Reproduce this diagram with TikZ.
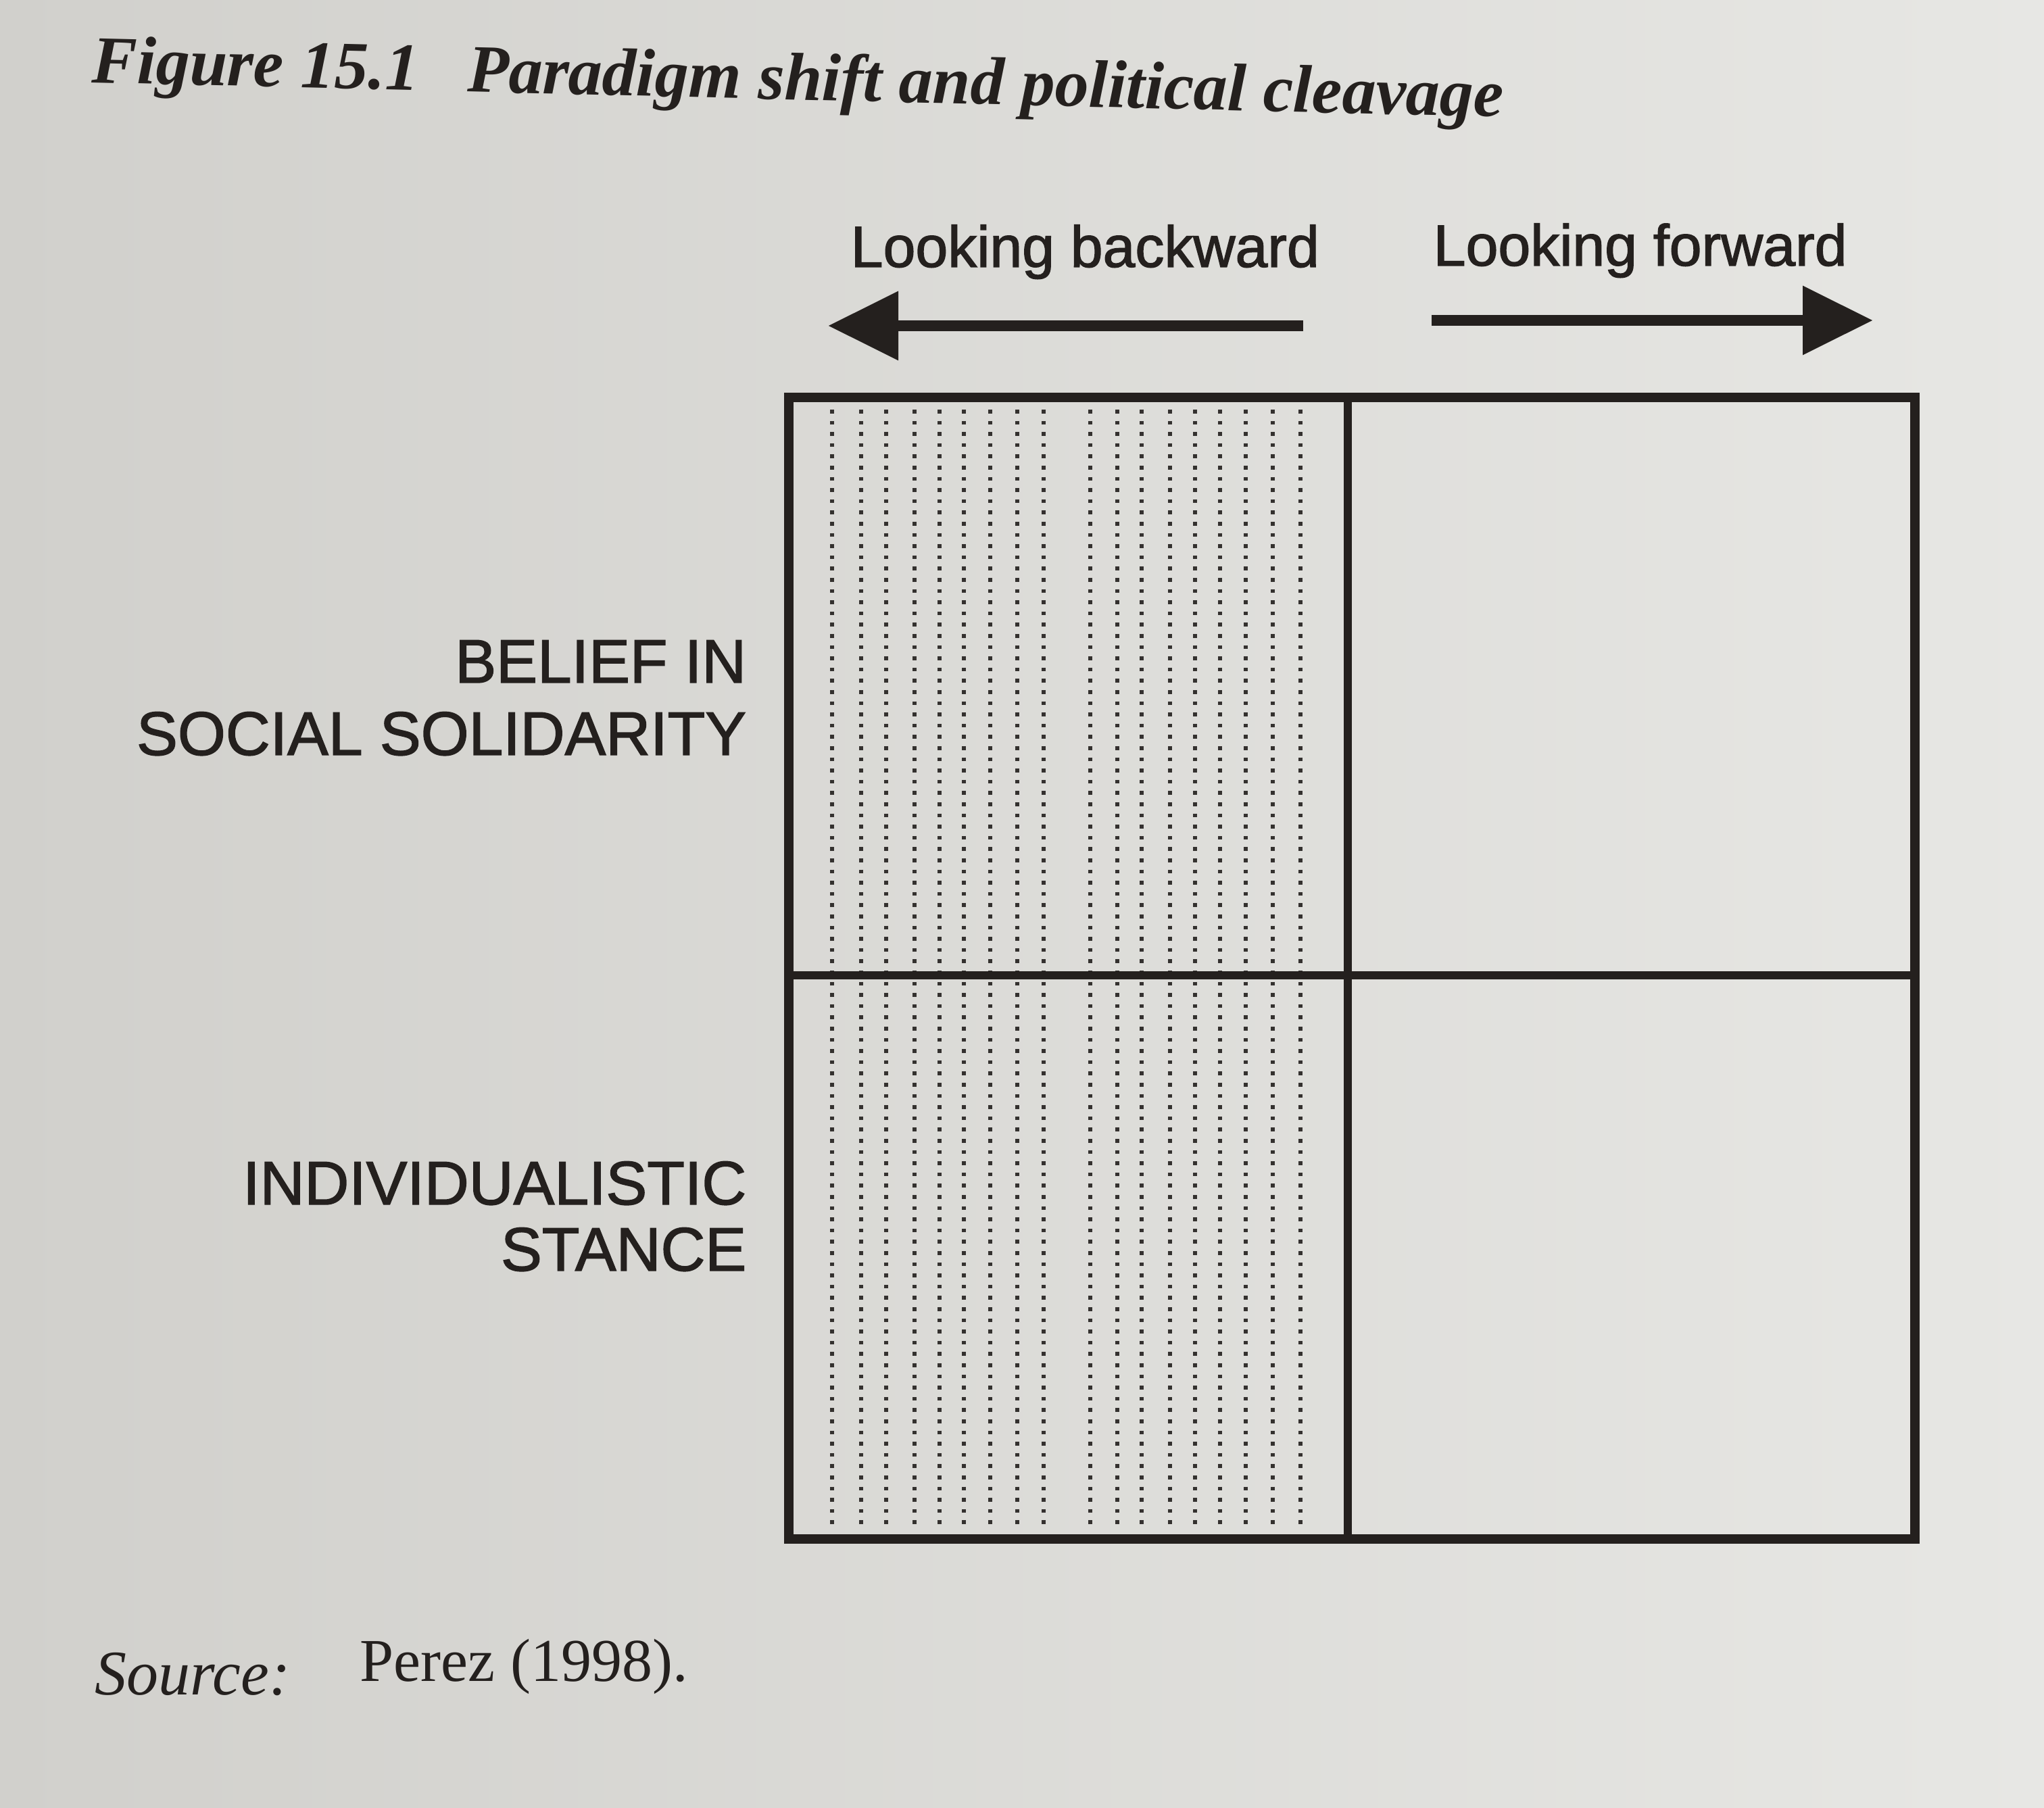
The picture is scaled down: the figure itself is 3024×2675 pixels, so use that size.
\documentclass[tikz,border=0pt]{standalone}
\usepackage{fontspec}
\setmainfont{Liberation Serif}
\newfontfamily\labelsans[FakeBold=1.6]{Liberation Sans}
\usetikzlibrary{arrows.meta}

\definecolor{ink}{RGB}{36,32,30}
\definecolor{dotink}{RGB}{52,49,47}
\definecolor{paperL}{RGB}{209,208,204}
\definecolor{paperR}{RGB}{231,231,228}

\tikzset{
  frame/.style={draw=ink, line width=3.6pt, line join=miter},
  divider/.style={draw=ink, line width=3.2pt},
  hatch/.style={draw=dotink, line width=1.6pt, dash pattern=on 1.4pt off 2.75pt},
  axislabel/.style={font=\labelsans\fontsize{21.5}{26}\selectfont, text=ink, inner sep=0pt},
  rowlabel/.style={font=\labelsans\fontsize{22.8}{27}\selectfont, text=ink, inner sep=0pt},
  caption/.style={text=ink, inner sep=0pt},
  bigarrow/.style={draw=ink, fill=ink, line width=4.2pt, -{Triangle[length=26pt, width=24.5pt]}},
}

\begin{document}
% one unit = one pixel of a 3024 x 2675 page, y growing downwards
\begin{tikzpicture}[x=0.25pt, y=-0.25pt]
  \useasboundingbox (0,0) rectangle (3024,2675);
  \shade[left color=paperL, right color=paperR] (0,0) rectangle (3024,2675);

  % caption
  \node[caption, anchor=base west, rotate=-1.4,
        font=\fontsize{25}{30}\selectfont\bfseries\itshape] (title) at (135,122)
    {Figure 15.1\hspace{18pt}Paradigm shift and political cleavage};

  % direction labels and arrows
  \node[axislabel, anchor=base west] (backLabel) at (1258,395) {Looking backward};
  \node[axislabel, anchor=base west] (fwdLabel) at (2120,393) {Looking forward};

  \coordinate (bwStart) at (1928,482);
  \coordinate (bwTip)   at (1225,482);
  \coordinate (fwStart) at (2118,474);
  \coordinate (fwTip)   at (2771,474);
  \draw[bigarrow] (bwStart) -- (bwTip);
  \draw[bigarrow] (fwStart) -- (fwTip);

  % the 2x2 grid
  \coordinate (NW) at (1167,588);
  \coordinate (SE) at (2833,2277);
  \coordinate (midTop) at (1994,588);
  \coordinate (midBot) at (1994,2277);
  \coordinate (midLeft) at (1167,1443);
  \coordinate (midRight) at (2833,1443);

  % dotted shading of the left column
  \foreach \hx in {1231,1274,1311,1353,1390,1426,1465,1505,1544,
                   1613,1653,1689,1731,1768,1805,1843,1883,1924}
    \draw[hatch] (\hx,606) -- (\hx,2264);

  \draw[divider] (midTop) -- (midBot);
  \draw[divider] (midLeft) -- (midRight);
  \draw[frame] (NW) rectangle (SE);

  % row labels
  \node[rowlabel, anchor=base east] (beliefA) at (1105,1010) {BELIEF IN};
  \node[rowlabel, anchor=base east] (beliefB) at (1105,1117) {SOCIAL SOLIDARITY};
  \node[rowlabel, anchor=base east] (indivA) at (1105,1782) {INDIVIDUALISTIC};
  \node[rowlabel, anchor=base east] (indivB) at (1105,1880) {STANCE};

  % source line
  \node[caption, anchor=base west, font=\fontsize{23.5}{28}\selectfont\itshape]
    (srcLabel) at (140,2507) {Source:};
  \node[caption, anchor=base west, font=\fontsize{22.5}{27}\selectfont]
    (srcRef) at (532,2487) {Perez (1998).};
\end{tikzpicture}
\end{document}
